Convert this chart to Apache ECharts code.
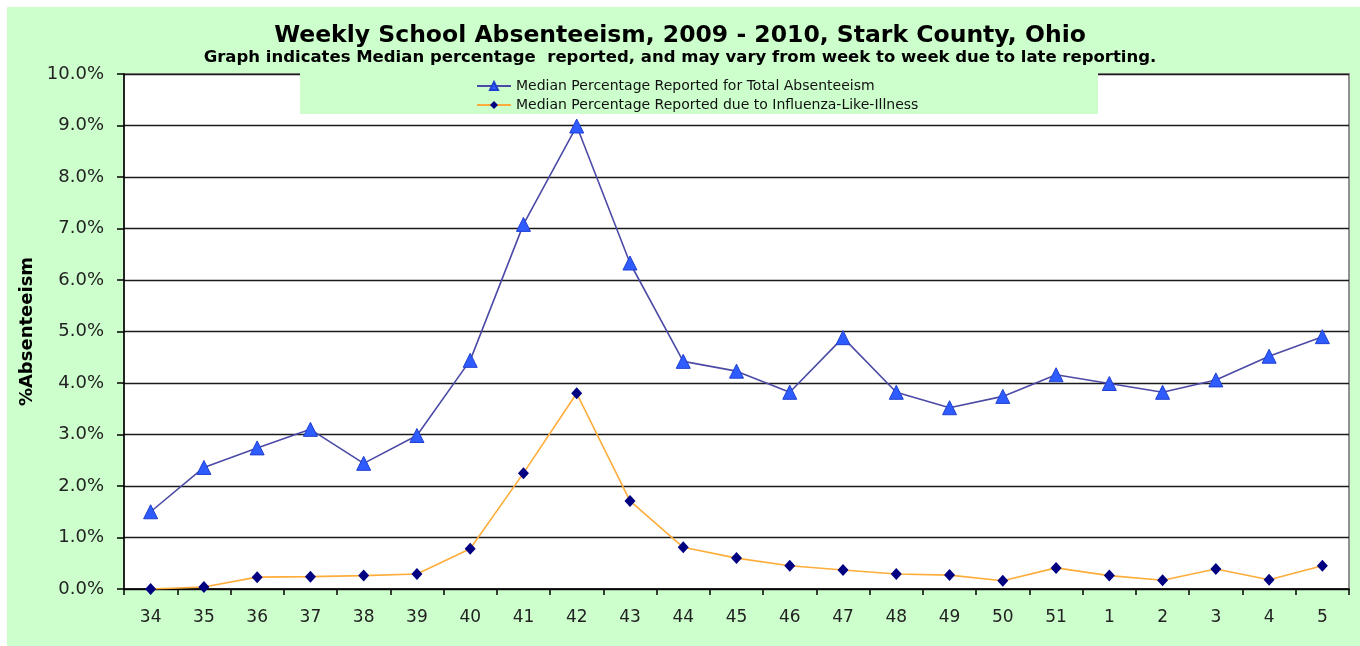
<!DOCTYPE html>
<html lang="en">
<head>
    <meta charset="UTF-8">
    <title>Weekly School Absenteeism, 2009 - 2010, Stark County, Ohio</title>
    <script src="https://cdn.jsdelivr.net/npm/echarts@6/dist/echarts.min.js"></script>
    <style>
        body { margin: 0; background: #ffffff; }
        #panel { position: absolute; left: 7px; top: 7px; right: 0; bottom: 0; background: #ccffcc; }
        #chart { position: absolute; left: 0; top: 0; width: 1360px; height: 646px; }
    </style>
</head>
<body>
    <div id="panel"></div>
    <div id="chart"></div>

    <script>
        // Weeks of the school year (2009 weeks 34-51, then 2010 weeks 1-5)
        const weeks = ['34', '35', '36', '37', '38', '39', '40', '41', '42', '43', '44', '45',
                       '46', '47', '48', '49', '50', '51', '1', '2', '3', '4', '5'];

        // Median percentage reported for total absenteeism
        const totalAbsent = [1.50, 2.36, 2.74, 3.10, 2.44, 2.98, 4.44, 7.08, 8.99, 6.33, 4.42, 4.23,
                             3.82, 4.88, 3.82, 3.52, 3.74, 4.16, 3.99, 3.82, 4.06, 4.52, 4.90];

        // Median percentage reported due to influenza-like-illness
        const iliAbsent = [0.00, 0.04, 0.23, 0.24, 0.26, 0.29, 0.78, 2.25, 3.80, 1.71, 0.81, 0.60,
                           0.45, 0.37, 0.29, 0.27, 0.16, 0.41, 0.26, 0.17, 0.39, 0.18, 0.45];

        const yTicks = { min: 0, max: 10, interval: 1 };

        const font = 'DejaVu Sans';
        const chart = echarts.init(document.getElementById('chart'));

        const options = {
            animation: false,
            backgroundColor: 'transparent',
            title: [{
                text: 'Weekly School Absenteeism, 2009 - 2010, Stark County, Ohio',
                left: 'center',
                top: 19,
                textStyle: { fontFamily: font, fontSize: 23.5, fontWeight: 'bold', color: '#000' }
            }, {
                text: 'Graph indicates Median percentage  reported, and may vary from week to week due to late reporting.',
                left: 'center',
                top: 44,
                textStyle: { fontFamily: font, fontSize: 16.5, fontWeight: 'bold', color: '#000' }
            }],
            // green box behind the legend, overlapping the plot top
            graphic: [{
                type: 'rect',
                z: 3,
                shape: { x: 300, y: 73, width: 798, height: 41 },
                style: { fill: '#ccffcc' }
            }],
            legend: {
                orient: 'vertical',
                left: 471,
                top: 74,
                z: 5,
                itemGap: 5,
                itemWidth: 34,
                itemHeight: 10,
                textStyle: { fontFamily: font, fontSize: 14, color: '#111' },
                data: ['Median Percentage Reported for Total Absenteeism',
                       'Median Percentage Reported due to Influenza-Like-Illness']
            },
            grid: {
                left: 124,
                right: 11,
                top: 74,
                bottom: 57,
                show: true,
                backgroundColor: '#ffffff',
                borderColor: '#909090',
                borderWidth: 2
            },
            xAxis: {
                type: 'category',
                data: weeks,
                boundaryGap: true,
                axisLine: { lineStyle: { color: '#000', width: 1.5 } },
                axisTick: { show: true, length: 6, lineStyle: { color: '#000', width: 1.5 } },
                axisLabel: { fontFamily: font, fontSize: 17, color: '#222', margin: 20 }
            },
            yAxis: {
                type: 'value',
                min: yTicks.min,
                max: yTicks.max,
                interval: yTicks.interval,
                name: '%Absenteeism',
                nameLocation: 'middle',
                nameRotate: 90,
                nameGap: 62,
                nameTextStyle: { fontFamily: font, fontSize: 18, fontWeight: 'bold', color: '#000' },
                axisLine: { show: true, lineStyle: { color: '#000', width: 1.5 } },
                axisTick: { show: true, length: 7, lineStyle: { color: '#000', width: 1.5 } },
                axisLabel: {
                    fontFamily: font,
                    fontSize: 18,
                    color: '#222',
                    margin: 20,
                    formatter: v => v.toFixed(1) + '%'
                },
                splitLine: { lineStyle: { color: '#1a1a1a', width: 1.3 } }
            },
            series: [{
                name: 'Median Percentage Reported for Total Absenteeism',
                type: 'line',
                data: totalAbsent,
                symbol: 'triangle',
                symbolSize: 14,
                itemStyle: { color: '#2f5cff', borderColor: '#1f3fd0', borderWidth: 1 },
                lineStyle: { color: '#4b4ba6', width: 1.6 }
            }, {
                name: 'Median Percentage Reported due to Influenza-Like-Illness',
                type: 'line',
                data: iliAbsent,
                symbol: 'diamond',
                symbolSize: [11, 12],
                itemStyle: { color: '#000080' },
                lineStyle: { color: '#ffad3a', width: 1.6 }
            }]
        };

        chart.setOption(options);
    </script>
</body>
</html>
